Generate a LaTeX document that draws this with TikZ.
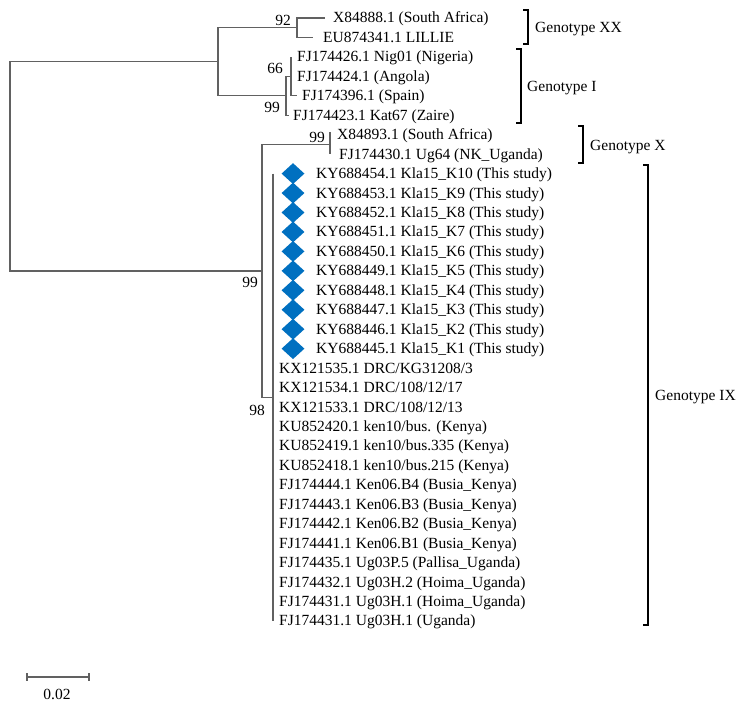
\documentclass[tikz,border=0pt]{standalone}
\usepackage{fontspec}
\setmainfont{Liberation Serif}
\usetikzlibrary{shapes.geometric}
\definecolor{kyblue}{RGB}{0,112,192}
\tikzset{
  branch/.style={draw=black!62, line width=1.3pt},
  clade/.style={draw=black, line width=1.2pt},
  leaf/.style={anchor=base west, inner sep=0pt, yshift=-5pt, font=\fontsize{15.5}{18}\selectfont},
  boot/.style={inner sep=0pt, font=\fontsize{15.5}{18}\selectfont},
  kymark/.style={diamond, fill=kyblue, minimum width=23pt, minimum height=21pt, inner sep=0pt},
}
\begin{document}
\begin{tikzpicture}[x=1pt,y=-1pt]
\useasboundingbox (0,0) rectangle (750,706);
\coordinate (root) at (10,166.3);
\coordinate (nA) at (218,61.75);
\coordinate (nXX) at (297,27.7);
\coordinate (nI) at (286,95.8);
\coordinate (n66) at (291,76.35);
\coordinate (nB) at (262,270.85);
\coordinate (nX) at (330,144.4);
\coordinate (nIX) at (273,397.3);
\coordinate (e0) at (325,18);
\coordinate (e1) at (313,37.45);
\coordinate (e2) at (291,56.9);
\coordinate (e4) at (297,95.8);
\coordinate (e5) at (289,115.25);
\coordinate (e6) at (330,132);
\coordinate (e7) at (330,154.15);
\coordinate (e8) at (273,173.6);
\coordinate (e31) at (273,620.95);
\draw[branch] (root) |- (nA);
\draw[branch] (root) |- (nB);
\draw[branch] (nA) |- (nXX);
\draw[branch] (nA) |- (nI);
\draw[branch] (nXX) |- (e0);
\draw[branch] (nXX) |- (e1);
\draw[branch] (nI) |- (n66);
\draw[branch] (nI) |- (e5);
\draw[branch] (n66) |- (e2);
\draw[branch] (n66) |- (e4);
\draw[branch] (nB) |- (nX);
\draw[branch] (nB) |- (nIX);
\draw[branch] (e6) -- (e7);
\draw[branch] (e8) -- (e31);
\node[boot] (b92) at (283,20) {92};
\node[boot] (b66) at (275,68) {66};
\node[boot] (b99i) at (272,107) {99};
\node[boot] (b99x) at (317,137) {99};
\node[boot] (b99b) at (250,282) {99};
\node[boot] (b98) at (257,410) {98};
\node[leaf] (l0) at (333,18) {X84888.1 (South Africa)};
\node[leaf] (l1) at (323,37.45) {EU874341.1 LILLIE};
\node[leaf] (l2) at (297,56.9) {FJ174426.1 Nig01 (Nigeria)};
\node[leaf] (l3) at (297,76.35) {FJ174424.1 (Angola)};
\node[leaf] (l4) at (302,95.8) {FJ174396.1 (Spain)};
\node[leaf] (l5) at (293,115.25) {FJ174423.1 Kat67 (Zaire)};
\node[leaf] (l6) at (337,134.7) {X84893.1 (South Africa)};
\node[leaf] (l7) at (339,154.15) {FJ174430.1 Ug64 (NK\_Uganda)};
\foreach \r in {8,...,17}
  \node[kymark] (d\r) at (293,{18+19.45*\r}) {};
\node[leaf] (l8) at (316,173.6) {KY688454.1 Kla15\_K10 (This study)};
\node[leaf] (l9) at (316,193.05) {KY688453.1 Kla15\_K9 (This study)};
\node[leaf] (l10) at (316,212.5) {KY688452.1 Kla15\_K8 (This study)};
\node[leaf] (l11) at (316,231.95) {KY688451.1 Kla15\_K7 (This study)};
\node[leaf] (l12) at (316,251.4) {KY688450.1 Kla15\_K6 (This study)};
\node[leaf] (l13) at (316,270.85) {KY688449.1 Kla15\_K5 (This study)};
\node[leaf] (l14) at (316,290.3) {KY688448.1 Kla15\_K4 (This study)};
\node[leaf] (l15) at (316,309.75) {KY688447.1 Kla15\_K3 (This study)};
\node[leaf] (l16) at (316,329.2) {KY688446.1 Kla15\_K2 (This study)};
\node[leaf] (l17) at (316,348.65) {KY688445.1 Kla15\_K1 (This study)};
\node[leaf] (l18) at (279,368.1) {KX121535.1 DRC/KG31208/3};
\node[leaf] (l19) at (279,387.55) {KX121534.1 DRC/108/12/17};
\node[leaf] (l20) at (279,407) {KX121533.1 DRC/108/12/13};
\node[leaf] (l21) at (279,426.45) {KU852420.1 ken10/bus. (Kenya)};
\node[leaf] (l22) at (279,445.9) {KU852419.1 ken10/bus.335 (Kenya)};
\node[leaf] (l23) at (279,465.35) {KU852418.1 ken10/bus.215 (Kenya)};
\node[leaf] (l24) at (279,484.8) {FJ174444.1 Ken06.B4 (Busia\_Kenya)};
\node[leaf] (l25) at (279,504.25) {FJ174443.1 Ken06.B3 (Busia\_Kenya)};
\node[leaf] (l26) at (279,523.7) {FJ174442.1 Ken06.B2 (Busia\_Kenya)};
\node[leaf] (l27) at (279,543.15) {FJ174441.1 Ken06.B1 (Busia\_Kenya)};
\node[leaf] (l28) at (279,562.6) {FJ174435.1 Ug03P.5 (Pallisa\_Uganda)};
\node[leaf] (l29) at (279,582.05) {FJ174432.1 Ug03H.2 (Hoima\_Uganda)};
\node[leaf] (l30) at (279,601.5) {FJ174431.1 Ug03H.1 (Hoima\_Uganda)};
\node[leaf] (l31) at (279,620.95) {FJ174431.1 Ug03H.1 (Uganda)};
\draw[clade] (523,10) -- (528,10) -- (528,44) -- (523,44);
\draw[clade] (516,49) -- (521,49) -- (521,123) -- (516,123);
\draw[clade] (578,126) -- (583,126) -- (583,163) -- (578,163);
\draw[clade] (643,165) -- (648,165) -- (648,625) -- (643,625);
\node[leaf] (gXX) at (535,28) {Genotype XX};
\node[leaf] (gI) at (527,87) {Genotype I};
\node[leaf] (gX) at (590,146) {Genotype X};
\node[leaf] (gIX) at (655,395) {Genotype IX};
\coordinate (s0) at (27,677);
\coordinate (s1) at (89,677);
\draw[branch] (s0) -- (s1);
\draw[branch] ([yshift=4pt]s0) -- ([yshift=-4pt]s0);
\draw[branch] ([yshift=4pt]s1) -- ([yshift=-4pt]s1);
\node[boot] (sc) at (57,694) {0.02};
\end{tikzpicture}
\end{document}
